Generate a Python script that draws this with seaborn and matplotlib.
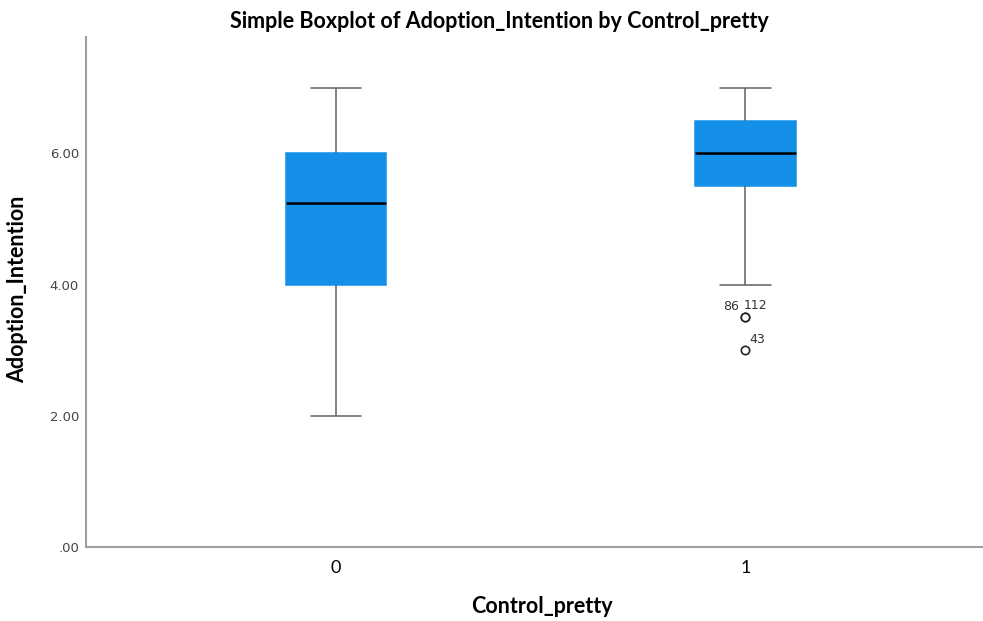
import pandas as pd
import numpy as np
import matplotlib
matplotlib.use("Agg")
import matplotlib.pyplot as plt
import seaborn as sns

# ── DATA ──────────────────────────────────────────────
group_0 = [2.0, 4.0, 4.0, 5.0, 5.5, 6.0, 6.0, 7.0]
group_1 = [3.0, 3.5, 3.5, 4.0, 5.5, 5.5, 6.0, 6.0, 6.0, 6.0,
           6.5, 6.5, 6.5, 7.0, 7.0, 7.0, 7.0]
outlier_ids = ["86", "112", "43"]
outlier_vals = [3.5, 3.5, 3.0]
y_ticks = [0, 2, 4, 6]
y_tick_labels = [".00", "2.00", "4.00", "6.00"]

df = pd.DataFrame({
    "Control_pretty": ["0"] * len(group_0) + ["1"] * len(group_1),
    "Adoption_Intention": group_0 + group_1,
})

# ── PLOT ──────────────────────────────────────────────
sns.set_style("white")
plt.rcParams["font.family"] = ["Lato", "DejaVu Sans"]
plt.rcParams["text.color"] = "black"
plt.rcParams["axes.labelcolor"] = "black"

fig = plt.figure(figsize=(9.83, 6.21), dpi=100)
ax = fig.add_axes([0.0875, 0.119, 0.9125, 0.821])

box_col = "#1490e8"
sns.boxplot(data=df, x="Control_pretty", y="Adoption_Intention", ax=ax,
            color=box_col, width=0.245, linecolor="#606060", linewidth=1.1,
            saturation=1,
            boxprops=dict(edgecolor=box_col),
            medianprops=dict(color="black", linewidth=1.8),
            flierprops=dict(marker="o", markersize=6, markerfacecolor="white",
                            markeredgecolor="#222222", markeredgewidth=1.2))

# outlier case labels
ax.annotate(outlier_ids[0], (1, outlier_vals[0]), xytext=(-16, 5),
            textcoords="offset points", fontsize=9, color="#333333",
            family=["DejaVu Sans"])
ax.annotate(outlier_ids[1], (1, outlier_vals[1]), xytext=(-1, 6),
            textcoords="offset points", fontsize=9, color="#333333",
            family=["DejaVu Sans"])
ax.annotate(outlier_ids[2], (1, outlier_vals[2]), xytext=(3, 5),
            textcoords="offset points", fontsize=9, color="#333333",
            family=["DejaVu Sans"])

ax.set_xlim(-0.61, 1.58)
ax.set_ylim(0, 7.77)
ax.set_yticks(y_ticks)
ax.set_yticklabels(y_tick_labels, fontsize=9.5, color="#444444",
                   family=["DejaVu Sans"])
ax.tick_params(axis="x", labelsize=13, labelcolor="black", length=0, pad=9)
ax.tick_params(axis="y", length=0, pad=5)

ax.set_xlabel("Control_pretty", fontsize=15.5, fontweight="bold")
ax.xaxis.set_label_coords(0.508, -0.095)
ax.set_ylabel("Adoption_Intention", fontsize=15.5, fontweight="bold")
ax.yaxis.set_label_coords(-0.0645, 0.505)
fig.suptitle("Simple Boxplot of Adoption_Intention by Control_pretty",
             x=0.508, y=0.982, fontsize=15.5, fontweight="bold")

sns.despine(ax=ax)
for side in ["left", "bottom"]:
    ax.spines[side].set_color("#a0a0a0")
    ax.spines[side].set_linewidth(1.5)

fig.savefig("out.png", dpi=100)
